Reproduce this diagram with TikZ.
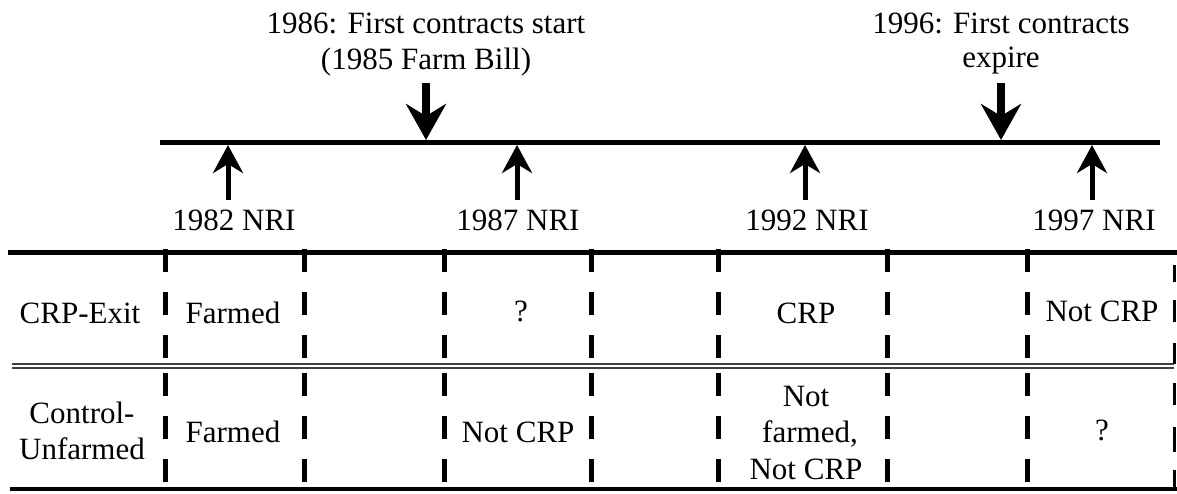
\documentclass[tikz,border=0pt]{standalone}
\usepackage{fontspec}
\setmainfont{Liberation Serif}
\usetikzlibrary{arrows.meta}
\begin{document}
\begin{tikzpicture}[x=1pt,y=-1pt,
  txt/.style={anchor=base,inner sep=0pt,font=\fontsize{31}{36}\selectfont},
  uparrow/.style={line width=5pt,-{Stealth[length=28pt,width=30pt,inset=9pt]}},
  downarrow/.style={line width=8pt,-{Stealth[length=36pt,width=40pt,inset=12pt]}},
  rule/.style={line width=5pt},
  vdash/.style={line width=5pt,dash pattern=on 23pt off 20pt},
  edgedash/.style={line width=3pt}
]
\useasboundingbox (0,0) rectangle (1177,493);

% timeline
\coordinate (tlL) at (160,142.5);
\coordinate (tlR) at (1160,142.5);
\draw[line width=5pt] (tlL) -- (tlR);

% event labels above
\node[txt] (e86a) at (426,33) {1986: First contracts start};
\node[txt] (e86b) at (426,69) {(1985 Farm Bill)};
\node[txt] (e96a) at (1001,33) {1996: First contracts};
\node[txt] (e96b) at (1001,67) {expire};

\coordinate (d86t) at (426,83);
\coordinate (d86h) at (426,140);
\coordinate (d96t) at (1001,83);
\coordinate (d96h) at (1001,140);
\draw[downarrow] (d86t) -- (d86h);
\draw[downarrow] (d96t) -- (d96h);

% NRI labels and up arrows
\foreach \n/\ax/\lx in {82/228/234,87/517/518,92/805/807,97/1092/1094}{
  \coordinate (u\n t) at (\ax,200);
  \coordinate (u\n h) at (\ax,145);
  \draw[uparrow] (u\n t) -- (u\n h);
  \node[txt] (nri\n) at (\lx,230) {19\n\ NRI};
}

% table rules
\coordinate (topL) at (8,252);
\coordinate (topR) at (1177,252);
\coordinate (midL) at (12,366);
\coordinate (midR) at (1174,366);
\coordinate (botL) at (10,489);
\coordinate (botR) at (1177,489);
\draw[rule] (topL) -- (topR);
\draw[line width=1.8pt,double=white,double distance=2pt,draw=black!75] (midL) -- (midR);
\draw[line width=4pt] (botL) -- (botR);

% dashed column separators
\foreach \x in {165,304,444,591,718,887,1027}{
  \draw[vdash] (\x,249) -- (\x,360);
  \draw[vdash] (\x,373) -- (\x,484);
}
% right edge
\foreach \a/\b in {265/282,300/322,343/364,383/405,427/452,470/489}{
  \draw[edgedash] (1174.5,\a) -- (1174.5,\b);
}

% row labels
\node[txt] (r1) at (80,323) {CRP-Exit};
\node[txt] (r2a) at (82,423) {Control-};
\node[txt] (r2b) at (82,459) {Unfarmed};

% cells row 1
\node[txt] (c11) at (233,323) {Farmed};
\node[txt] (c12) at (521,321) {?};
\node[txt] (c13) at (806,323) {CRP};
\node[txt] (c14) at (1102,321) {Not CRP};

% cells row 2
\node[txt] (c21) at (233,442) {Farmed};
\node[txt] (c22) at (518,442) {Not CRP};
\node[txt] (c23a) at (806,406) {Not};
\node[txt] (c23b) at (810,442) {farmed,};
\node[txt] (c23c) at (806,479) {Not CRP};
\node[txt] (c24) at (1102,440) {?};
\end{tikzpicture}
\end{document}
